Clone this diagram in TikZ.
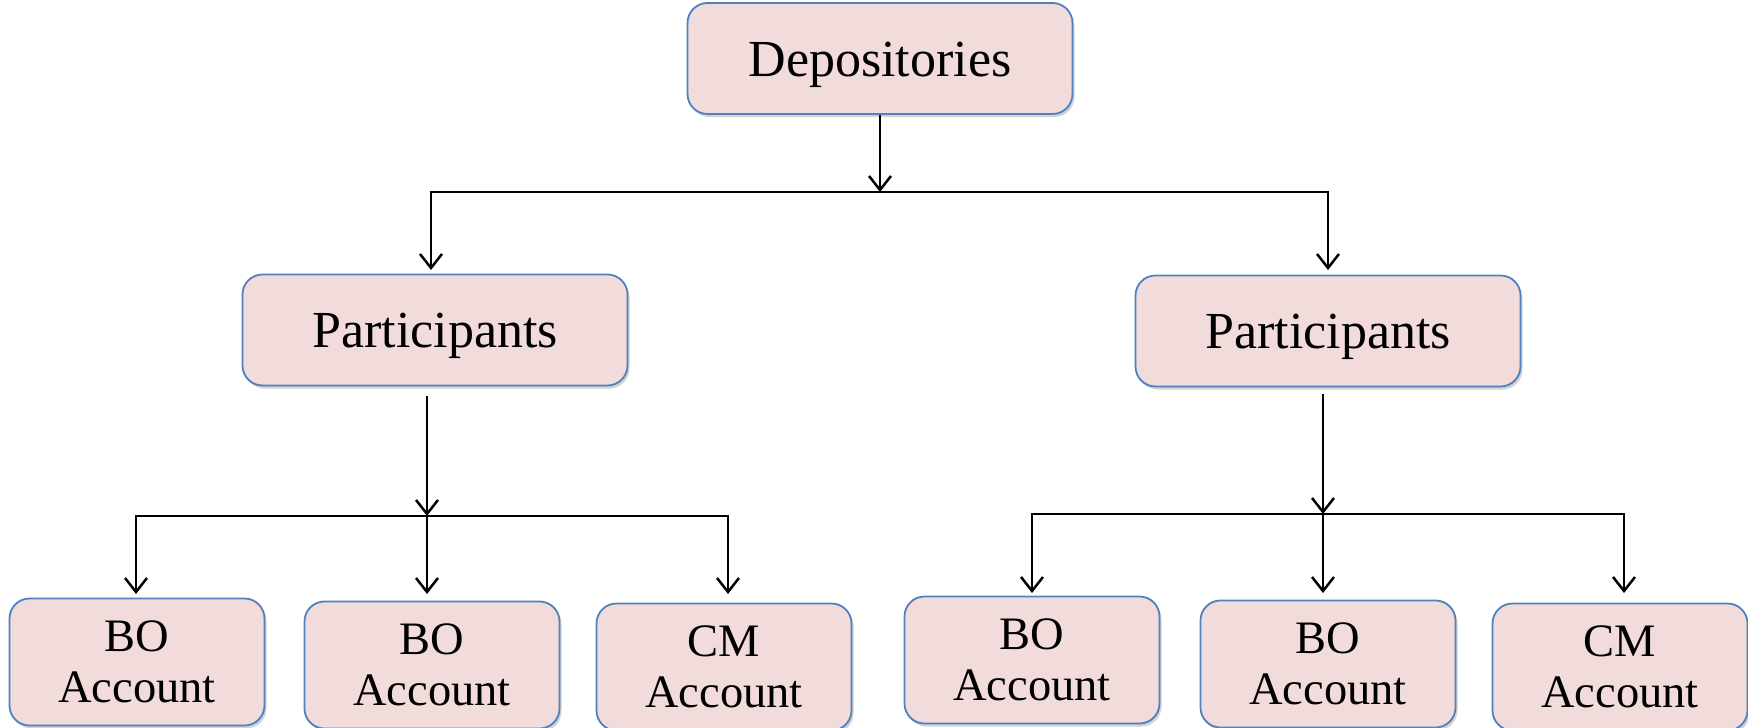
\documentclass[tikz,border=0pt]{standalone}
\usepackage{fontspec}
\setmainfont{Liberation Serif}
\usetikzlibrary{arrows.meta,shadows}
\definecolor{boxfill}{HTML}{F2DCDB}
\definecolor{boxline}{HTML}{4F81BD}
\tikzset{
  box/.style={draw=boxline, line width=1.8pt, fill=boxfill, rounded corners=20pt,
    drop shadow={shadow xshift=2pt, shadow yshift=-3pt, opacity=0.35, fill=gray},
    inner sep=0pt},
  bigbox/.style={box, minimum width=385pt, minimum height=111pt, text height=46pt, text depth=11pt, font=\fontsize{52}{60}\selectfont},
  acct/.style={box, align=center, minimum width=255pt, minimum height=127pt, font=\fontsize{46.5}{51}\selectfont},
  conn/.style={line width=2.5pt, black},
  arr/.style={conn, -{Straight Barb[length=14pt,width=22pt,line width=2.5pt]}}
}
\begin{document}
\begin{tikzpicture}[x=1pt,y=-1pt]
\useasboundingbox (0,0) rectangle (1748,728);
\node[bigbox] (dep) at (880,58.5) {Depositories};
\node[bigbox] (pl) at (435,330) {Participants};
\node[bigbox] (pr) at (1328,331) {Participants};
\node[acct] (bo1) at (137,662) {BO\\Account};
\node[acct] (bo2) at (432,665) {BO\\Account};
\node[acct] (cm1) at (724,667) {CM\\Account};
\node[acct] (bo3) at (1032,660) {BO\\Account};
\node[acct] (bo4) at (1328,664) {BO\\Account};
\node[acct] (cm2) at (1620,667) {CM\\Account};
\coordinate (j1) at (880,192);
\coordinate (pl-in) at (431,270);
\coordinate (pr-in) at (1328,270);
\coordinate (pl-out) at (427,396);
\coordinate (j2) at (427,516);
\coordinate (pr-out) at (1323,394);
\coordinate (j3) at (1323,514);
\coordinate (bo1-in) at (136,594);
\coordinate (bo2-in) at (427,594);
\coordinate (cm1-in) at (728,594);
\coordinate (bo3-in) at (1032,593);
\coordinate (bo4-in) at (1323,593);
\coordinate (cm2-in) at (1624,593);
\draw[arr] (dep.south) -- (j1);
\draw[arr] (j1) -| (pl-in);
\draw[arr] (j1) -| (pr-in);
\draw[arr] (pl-out) -- (j2);
\draw[arr] (j2) -| (bo1-in);
\draw[arr] (j2) -- (bo2-in);
\draw[arr] (j2) -| (cm1-in);
\draw[arr] (pr-out) -- (j3);
\draw[arr] (j3) -| (bo3-in);
\draw[arr] (j3) -- (bo4-in);
\draw[arr] (j3) -| (cm2-in);
\end{tikzpicture}
\end{document}
